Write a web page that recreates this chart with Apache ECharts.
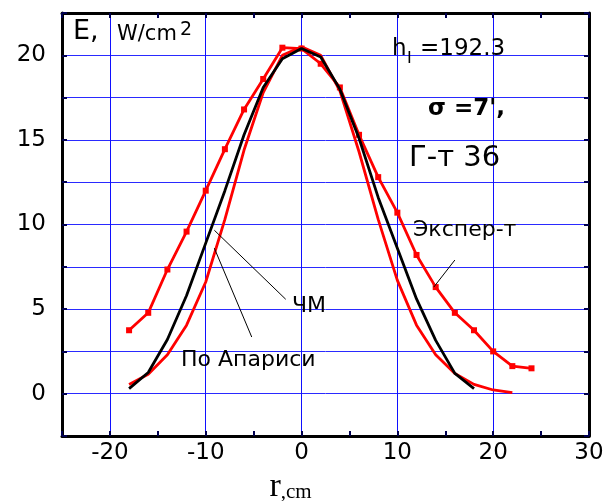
<!DOCTYPE html>
<html>
<head>
<meta charset="utf-8">
<script src="https://cdn.jsdelivr.net/npm/echarts@6/dist/echarts.min.js"></script>
<style>
  html, body { margin: 0; padding: 0; background: #fff; }
  #chart { width: 609px; height: 501px; }
</style>
</head>
<body>
<div id="chart"></div>
<script>
// measured points, r in cm
const expR = [-18, -16, -14, -12, -10, -8, -6, -4, -2, 0, 2, 4, 6, 8, 10, 12, 14, 16, 18, 20, 22, 24];
const expE = [3.75, 4.78, 7.34, 9.58, 12.0, 14.45, 16.8, 18.6, 20.45, 20.4, 19.5, 18.1, 15.3, 12.8, 10.7, 8.2, 6.3, 4.78, 3.75, 2.5, 1.63, 1.5];

const chmR = [-18, -16, -14, -12, -10, -8, -6, -4, -2, 0, 2, 4, 6, 8, 10, 12, 14, 16, 18];
const chmE = [0.3, 1.25, 3.2, 5.8, 8.9, 12.0, 15.3, 18.1, 19.8, 20.4, 19.9, 18.0, 15.1, 11.6, 8.6, 5.6, 3.15, 1.2, 0.3];

const aparR = [-18, -16, -14, -12, -10, -8, -6, -4, -2, 0, 2, 4, 6, 8, 10, 12, 14, 16, 18, 20, 22];
const aparE = [0.55, 1.15, 2.3, 4.05, 6.6, 10.3, 14.4, 17.8, 20.0, 20.5, 20.0, 17.9, 14.3, 10.3, 6.7, 4.05, 2.3, 1.2, 0.55, 0.22, 0.06];

// leader lines from the labels to the curves
const chmLeader = [[-9.1, 9.66], [-1.65, 5.58]];
const aparLeader = [[-9.1, 8.6], [-5.2, 3.35]];
const expLeader = [[13.8, 6.3], [16.0, 7.9]];

const pairs = (xs, ys) => xs.map((x, i) => [x, ys[i]]);

const chart = echarts.init(document.getElementById('chart'));
const font = '"DejaVu Sans", sans-serif';
const serif = '"Liberation Serif", serif';
const tickStyle = { show: true, inside: true, length: 5, lineStyle: { color: '#000050', width: 2 } };
const axLine = { show: true, onZero: false, lineStyle: { color: '#000', width: 3 } };

const txt = (x, y, text, size, extra) => Object.assign({
  type: 'text', x: x, y: y, z: 100,
  style: Object.assign({
    text: text, fill: '#000', font: size + 'px ' + font,
    verticalAlign: 'middle', textVerticalAlign: 'middle'
  }, extra || {})
});

chart.setOption({
  animation: false,
  backgroundColor: '#fff',
  grid: { left: 62, right: 20, top: 13, bottom: 65, containLabel: false, outerBoundsMode: 'none' },
  xAxis: [{
    type: 'value', min: -25, max: 30, interval: 5,
    axisLine: axLine, axisTick: tickStyle,
    axisLabel: {
      margin: 6, color: '#000', fontSize: 23, fontFamily: font,
      formatter: v => (v % 10 === 0 ? String(v) : '')
    },
    splitLine: { show: true, lineStyle: { color: ['rgba(0,0,0,0)', '#1010ff'], width: 1 } },
    name: '{a|r}{b|,cm}', nameLocation: 'middle', nameGap: 33,
    nameTextStyle: {
      padding: [0, 70, 0, 0],
      rich: {
        a: { fontSize: 34, fontFamily: serif, color: '#000', verticalAlign: 'bottom' },
        b: { fontSize: 21, fontFamily: serif, color: '#000', verticalAlign: 'bottom', padding: [0, 0, 1, 0] }
      },
      fontSize: 21, fontFamily: serif, color: '#000'
    }
  }, {
    type: 'value', position: 'top', min: -25, max: 30, interval: 5,
    axisLine: axLine, axisTick: tickStyle, axisLabel: { show: false }, splitLine: { show: false }
  }],
  yAxis: [{
    type: 'value', min: -2.5, max: 22.5, interval: 2.5,
    axisLine: axLine, axisTick: tickStyle,
    axisLabel: {
      margin: 16, color: '#000', fontSize: 23, fontFamily: font,
      formatter: v => (v % 5 === 0 ? String(v) : '')
    },
    splitLine: { show: true, lineStyle: { color: '#2a2aff', width: 1 } }
  }, {
    type: 'value', position: 'right', min: -2.5, max: 22.5, interval: 2.5,
    axisLine: axLine, axisTick: tickStyle, axisLabel: { show: false }, splitLine: { show: false }
  }],
  series: [{
    name: 'Экспер-т', type: 'line', data: pairs(expR, expE),
    symbol: 'rect', symbolSize: 6, showSymbol: true,
    lineStyle: { color: '#ff0000', width: 2.8 }, itemStyle: { color: '#ff0000' }, z: 3
  }, {
    name: 'ЧМ', type: 'line', data: pairs(chmR, chmE), showSymbol: false,
    lineStyle: { color: '#000', width: 2.8 }, z: 4
  }, {
    name: 'По Апариси', type: 'line', data: pairs(aparR, aparE), showSymbol: false,
    lineStyle: { color: '#ff0000', width: 2.8 }, z: 2
  }].concat([chmLeader, aparLeader, expLeader].map(d => ({
    type: 'line', data: d, showSymbol: false, silent: true,
    lineStyle: { color: '#000', width: 1 }, z: 5
  }))),
  graphic: [
    txt(73, 32, 'E,', 27),
    txt(117, 35, 'W/cm', 21),
    txt(180, 30, '2', 19),
    txt(392, 49, 'h', 23),
    txt(407, 59, 'I', 16),
    txt(420, 49, '=192.3', 23),
    txt(428, 109, 'σ =7\',', 23, { font: 'bold 23px ' + font }),
    txt(409, 158, 'Г-т 36', 29),
    txt(413, 230, 'Экспер-т', 22),
    txt(292, 306, 'ЧМ', 22),
    txt(181, 360, 'По Апариси', 22)
  ]
});
</script>
</body>
</html>
